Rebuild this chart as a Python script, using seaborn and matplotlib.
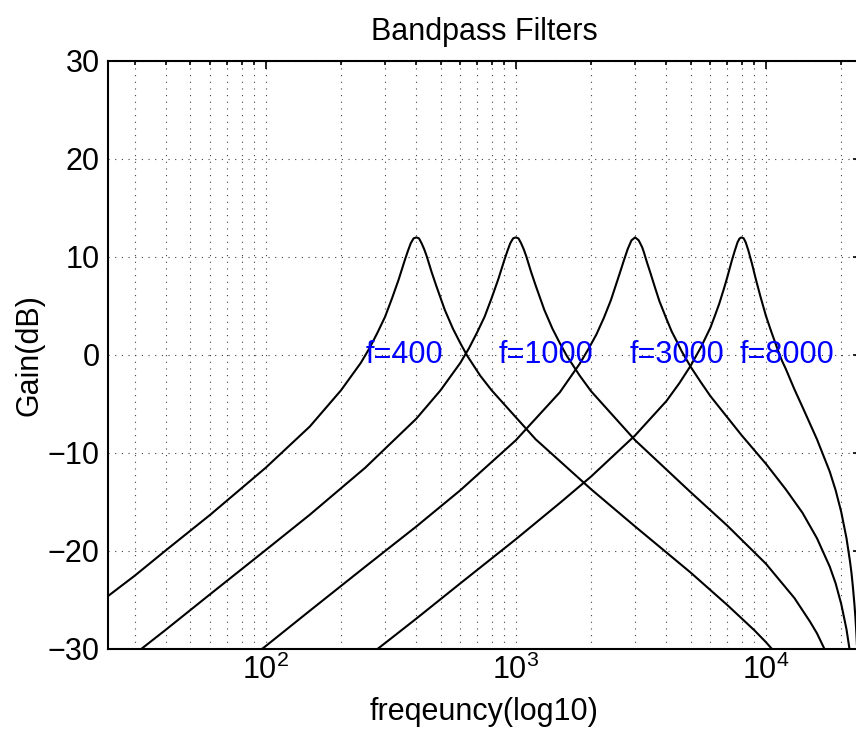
import matplotlib
matplotlib.use("Agg")
import matplotlib.pyplot as plt
import seaborn as sns
import pandas as pd
from matplotlib.ticker import LogLocator, NullFormatter, FixedLocator

# ---------------- data ----------------
freq_400 = [23.4, 30, 40, 60, 100, 150, 200, 240, 260, 280, 300, 320, 340, 360, 370, 380, 390, 400,
            410, 420, 430, 440, 460, 480, 520, 560, 600, 640, 720, 800, 1200, 2000, 3000, 5000,
            7000, 9000, 10000, 11000]
gain_400 = [-24.6, -22.5, -19.9, -16.3, -11.5, -7.3, -3.6, -0.8, 0.7, 2.3, 3.9, 5.8, 7.7, 9.7, 10.6, 11.4, 11.9, 12.0,
            11.9, 11.4, 10.8, 10.1, 8.5, 7.1, 4.6, 2.7, 1.2, -0.1, -2.1, -3.6, -8.6, -13.7, -17.5, -22.2,
            -25.5, -28.1, -29.3, -30.5]

freq_1000 = [30, 40, 60, 100, 150, 250, 400, 500, 600, 650, 700, 750, 800, 850, 900, 925, 950, 975, 1000,
             1025, 1050, 1075, 1100, 1150, 1200, 1300, 1400, 1500, 1600, 1800, 2000, 3000, 5000, 7000,
             10000, 13000, 15000, 16000, 17000, 18000]
gain_1000 = [-30.5, -28.0, -24.4, -19.9, -16.3, -11.5, -6.5, -3.6, -0.8, 0.7, 2.3, 3.9, 5.8, 7.7, 9.7, 10.6, 11.4, 11.9, 12.0,
             11.9, 11.4, 10.8, 10.1, 8.5, 7.1, 4.6, 2.7, 1.2, -0.1, -2.1, -3.7, -8.7, -14.0, -17.4,
             -21.3, -24.8, -27.2, -28.4, -29.8, -31.3]

freq_3000 = [90, 100, 150, 250, 400, 600, 1000, 1500, 1800, 1950, 2100, 2250, 2400, 2600, 2700, 2800, 2900, 3000,
             3100, 3200, 3250, 3350, 3450, 3600, 3750, 4000, 4200, 4400, 4600, 5000, 5500, 6000, 8000, 10000,
             12000, 14000, 16000, 18000, 19000, 20000, 20500, 21000, 21500, 21700]
gain_3000 = [-30.6, -29.7, -26.1, -21.6, -17.5, -13.8, -8.7, -3.8, -0.9, 0.6, 2.1, 3.8, 5.6, 8.3, 9.6, 10.8, 11.7, 12.0,
             11.7, 11.0, 10.5, 9.4, 8.4, 6.9, 5.5, 3.7, 2.4, 1.4, 0.4, -1.2, -2.8, -4.2, -8.2, -11.1,
             -13.7, -16.1, -18.7, -21.6, -23.3, -25.4, -26.7, -28.0, -29.7, -30.4]

freq_8000 = [270, 300, 400, 600, 1000, 1500, 2000, 3000, 4000, 4500, 5000, 5500, 6000, 6250, 6500, 6800, 7000,
             7300, 7500, 7700, 7850, 8000, 8150, 8300, 8500, 8800, 9100, 9500, 10000, 10500, 11200, 11600,
             12000, 13000, 14000, 16000, 18000, 19000, 20000, 21000, 21700, 22000, 22300, 22600, 22800,
             22950, 23100, 23200]
gain_8000 = [-30.3, -29.4, -26.9, -23.3, -18.8, -15.1, -12.4, -8.2, -4.7, -2.9, -1.1, 0.8, 2.8, 4.0, 5.2, 6.8, 7.9,
             9.6, 10.6, 11.5, 11.9, 12.0, 11.9, 11.5, 10.7, 9.3, 7.8, 6.0, 4.0, 2.4, 0.4, -0.6,
             -1.4, -3.5, -5.3, -8.6, -11.9, -13.8, -16.0, -18.7, -21.1, -22.3, -23.8, -25.5, -26.8,
             -28.0, -29.4, -30.4]

label_x = [250, 850, 2850, 7850]
label_y = [0, 0, 0, 0]
label_text = ["f=400", "f=1000", "f=3000", "f=8000"]

curve_names = ["400", "1000", "3000", "8000"]
freq_lists = [freq_400, freq_1000, freq_3000, freq_8000]
gain_lists = [gain_400, gain_1000, gain_3000, gain_8000]

frames = []
for name, fr, gn in zip(curve_names, freq_lists, gain_lists):
    frames.append(pd.DataFrame({"freq": fr, "gain": gn, "curve": name}))
df = pd.concat(frames, ignore_index=True)

# ---------------- styling ----------------
sns.set_style("white")
plt.rcParams["font.family"] = ["Liberation Sans", "DejaVu Sans"]
plt.rcParams["mathtext.fontset"] = "custom"
plt.rcParams["mathtext.rm"] = "Liberation Sans"
plt.rcParams["mathtext.it"] = "Liberation Sans:italic"
plt.rcParams["mathtext.bf"] = "Liberation Sans:bold"
plt.rcParams["mathtext.default"] = "regular"
plt.rcParams["text.color"] = "black"
plt.rcParams["axes.labelcolor"] = "black"
plt.rcParams["xtick.color"] = "black"
plt.rcParams["ytick.color"] = "black"

W, H = 856, 731
fig = plt.figure(figsize=(W / 100, H / 100), dpi=100)
ax_left, ax_right, ax_top, ax_bottom = 108, 861, 61, 649
ax = fig.add_axes([ax_left / W, (H - ax_bottom) / H, (ax_right - ax_left) / W, (ax_bottom - ax_top) / H])

sns.lineplot(data=df, x="freq", y="gain", hue="curve", units="curve", estimator=None,
             palette={n: "black" for n in curve_names}, linewidth=1.5, legend=False, ax=ax)

ax.set_xscale("log")
ax.set_xlim(23.4, 24000)
ax.set_ylim(-30, 30)
ax.yaxis.set_major_locator(FixedLocator([-30, -20, -10, 0, 10, 20, 30]))
ax.xaxis.set_major_locator(LogLocator(base=10, numticks=10))
ax.xaxis.set_minor_locator(LogLocator(base=10, subs=[2, 3, 4, 5, 6, 7, 8, 9], numticks=20))
ax.xaxis.set_minor_formatter(NullFormatter())

grid_kw = dict(color="0.25", linestyle=(0, (1, 5)), linewidth=0.8)
ax.grid(True, which="major", axis="both", **grid_kw)
ax.grid(True, which="minor", axis="x", **grid_kw)
ax.set_axisbelow(True)

ax.tick_params(which="both", direction="in", top=True, right=True, labelsize=22, width=1.2,
               colors="black", labelcolor="black")
ax.tick_params(which="major", length=6, pad=6)
ax.tick_params(which="minor", length=3)
ax.tick_params(axis="x", which="major", pad=4)

for sp in ax.spines.values():
    sp.set_linewidth(1.5)
    sp.set_color("black")

for xt, yt, tt in zip(label_x, label_y, label_text):
    ax.text(xt, yt, tt, color="blue", fontsize=22, ha="left", va="center")

ax.set_title("Bandpass Filters", fontsize=22, pad=15, color="black")
ax.set_xlabel("freqeuncy(log10)", fontsize=22, labelpad=8, color="black")
ax.set_ylabel("Gain(dB)", fontsize=22, labelpad=2, color="black")

fig.savefig("out.png", dpi=100)
